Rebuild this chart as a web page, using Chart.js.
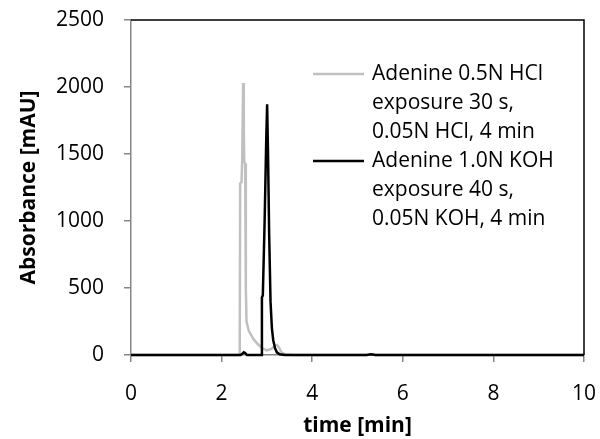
<!DOCTYPE html>
<html>
<head>
<meta charset="utf-8">
<script src="https://cdn.jsdelivr.net/npm/chart.js@4.4.1/dist/chart.umd.min.js"></script>
<style>
  html, body { margin: 0; padding: 0; background: #fff; }
  #wrap { width: 600px; height: 439px; }
</style>
</head>
<body>
<div id="wrap"><canvas id="c" width="600" height="439"></canvas></div>
<script>
// ---- data ----
const hclLabel = "Adenine 0.5N HCl\nexposure 30 s,\n0.05N HCl, 4 min";
const kohLabel = "Adenine 1.0N KOH\nexposure 40 s,\n0.05N KOH, 4 min";

const hclTime = [0, 2.36, 2.40, 2.41, 2.44, 2.455, 2.475, 2.49, 2.50, 2.52, 2.535, 2.55, 2.6, 2.7, 2.8, 2.9, 3.0, 3.1, 3.18, 3.22, 3.27, 3.32, 3.4, 3.6, 5.2, 5.3, 5.4, 10];
const hclAbs  = [0, 0, 5, 1280, 1290, 1460, 2030, 1700, 1440, 1430, 500, 250, 180, 120, 80, 50, 35, 45, 70, 75, 55, 20, 5, 0, 0, 4, 0, 0];

const kohTime = [0, 2.42, 2.46, 2.49, 2.52, 2.56, 2.88, 2.89, 2.91, 2.95, 2.985, 3.005, 3.025, 3.05, 3.08, 3.11, 3.14, 3.18, 3.22, 3.28, 3.4, 5.2, 5.3, 5.4, 10];
const kohAbs  = [0, 0, 10, 20, 15, 0, 0, 430, 445, 1000, 1600, 1871, 1500, 900, 400, 200, 110, 50, 20, 5, 0, 0, 5, 0, 0];

const xTicks = [0, 2, 4, 6, 8, 10];
const yTicks = [0, 500, 1000, 1500, 2000, 2500];

const toXY = (t, v) => t.map((x, i) => ({x: x, y: v[i]}));

const FONT = "'Open Sans', sans-serif";

const legendPlugin = {
  id: 'customLegend',
  afterDraw(chart) {
    const ctx = chart.ctx;
    ctx.save();
    ctx.font = "21px " + FONT;
    ctx.fillStyle = "#000";
    ctx.textBaseline = "middle";
    ctx.textAlign = "left";
    let y = 74;
    chart.data.datasets.forEach(ds => {
      ctx.strokeStyle = ds.borderColor;
      ctx.lineWidth = ds.borderWidth;
      ctx.beginPath();
      ctx.moveTo(313, y);
      ctx.lineTo(364, y);
      ctx.stroke();
      ds.label.split("\n").forEach(line => {
        ctx.fillText(line, 372, y);
        y += 29;
      });
    });
    ctx.restore();
  }
};

const borderPlugin = {
  id: 'plotBorder',
  afterDatasetsDraw(chart) {
    const a = chart.chartArea;
    const ctx = chart.ctx;
    ctx.save();
    ctx.strokeStyle = "#000";
    ctx.lineWidth = 1.5;
    ctx.beginPath();
    ctx.moveTo(a.left, a.top);
    ctx.lineTo(a.right, a.top);
    ctx.lineTo(a.right, a.bottom);
    ctx.stroke();
    ctx.restore();
  }
};

new Chart(document.getElementById('c'), {
  type: 'line',
  data: {
    datasets: [
      { label: hclLabel, data: toXY(hclTime, hclAbs), borderColor: "#c0c0c0", borderWidth: 2.5, pointRadius: 0, tension: 0, fill: false, clip: false, order: 1 },
      { label: kohLabel, data: toXY(kohTime, kohAbs), borderColor: "#000000", borderWidth: 2.5, pointRadius: 0, tension: 0, fill: false, clip: false, order: 0 }
    ]
  },
  options: {
    responsive: false,
    animation: false,
    devicePixelRatio: 1,
    layout: { padding: { left: 0, top: 20, right: 16, bottom: 0 } },
    plugins: { legend: { display: false }, tooltip: { enabled: false } },
    scales: {
      x: {
        type: 'linear',
        min: 0, max: 10,
        afterFit: s => { s.height = 84; s.paddingLeft = 0; s.paddingRight = 0; },
        afterBuildTicks: s => { s.ticks = xTicks.map(v => ({value: v})); },
        border: { display: true, color: "#868686", width: 1.5 },
        grid: { display: true, drawOnChartArea: false, drawTicks: true, tickLength: 7, color: "#868686", lineWidth: 1.5 },
        ticks: { color: "#000", font: { family: FONT, size: 21 }, padding: 19, maxRotation: 0, callback: v => String(v) },
        title: { display: true, text: "time [min]", color: "#000", font: { family: FONT, size: 21, weight: 'bold' }, padding: { top: 0, bottom: 0 } }
      },
      y: {
        type: 'linear',
        min: 0, max: 2500,
        afterFit: s => { s.width = 131; s.paddingTop = 0; s.paddingBottom = 0; },
        afterBuildTicks: s => { s.ticks = yTicks.map(v => ({value: v})); },
        border: { display: true, color: "#868686", width: 1.5 },
        grid: { display: true, drawOnChartArea: false, drawTicks: true, tickLength: 7, color: "#868686", lineWidth: 1.5 },
        ticks: { color: "#000", font: { family: FONT, size: 21 }, padding: 20, callback: v => String(v) },
        title: { display: true, text: "Absorbance [mAU]", color: "#000", font: { family: FONT, size: 21, weight: 'bold' }, padding: { top: 16, bottom: 0 } }
      }
    }
  },
  plugins: [legendPlugin, borderPlugin]
});
</script>
</body>
</html>
